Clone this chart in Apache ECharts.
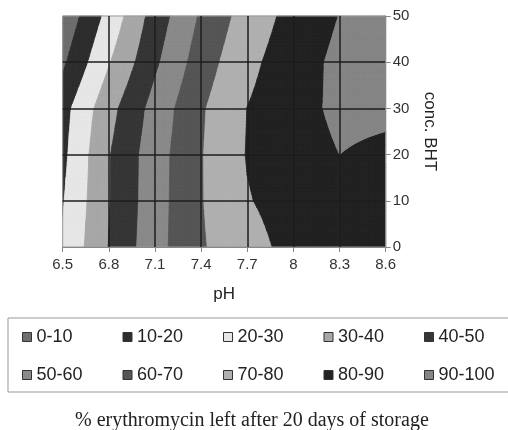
<!DOCTYPE html>
<html><head><meta charset="utf-8">
<script src="https://cdn.jsdelivr.net/npm/echarts@6/dist/echarts.min.js"></script>
<style>html,body{margin:0;padding:0;background:#fff}#c{width:508px;height:430px}</style>
</head><body><div id="c"></div>
<script>
// ---- data ----
const phLabels = ['6.5', '6.8', '7.1', '7.4', '7.7', '8', '8.3', '8.6'];
const bhtValues = [0, 10, 20, 30, 40, 50];
// % erythromycin left, one array per BHT level (columns follow phLabels)
const leftAtBHT0  = [21.0, 40.3, 56.4, 69.0, 76.5, 83.0, 85.0, 86.0];
const leftAtBHT10 = [19.4, 39.5, 55.8, 69.4, 79.4, 84.0, 86.0, 86.0];
const leftAtBHT20 = [17.6, 39.4, 55.5, 69.4, 80.5, 85.3, 90.0, 88.0];
const leftAtBHT30 = [16.3, 36.6, 53.5, 68.8, 80.1, 86.1, 92.2, 92.0];
const leftAtBHT40 = [8.3, 29.3, 48.1, 65.0, 77.5, 85.4, 92.3, 93.0];
const leftAtBHT50 = [2.4, 23.0, 44.3, 61.3, 74.3, 83.2, 90.2, 93.0];
const bandNames = ['0-10', '10-20', '20-30', '30-40', '40-50', '50-60', '60-70', '70-80', '80-90', '90-100'];
const bandLower = [0, 10, 20, 30, 40, 50, 60, 70, 80, 90];
const bandUpper = [10, 20, 30, 40, 50, 60, 70, 80, 90, 100];

// ---- styles ----
const bandColors = ['#6e6e6e', '#2e2e2e', '#e6e6e6', '#a8a8a8', '#363636',
                    '#8a8a8a', '#565656', '#b0b0b0', '#232323', '#858585'];

const gridRows = [leftAtBHT0, leftAtBHT10, leftAtBHT20, leftAtBHT30, leftAtBHT40, leftAtBHT50];
const cells = [];
for (let j = 0; j < bhtValues.length - 1; j++)
  for (let i = 0; i < phLabels.length - 1; i++) cells.push([i, j]);

function clipPoly(poly, thr, keepAbove) {
  const out = [];
  const n = poly.length;
  for (let m = 0; m < n; m++) {
    const P = poly[m], Q = poly[(m + 1) % n];
    const pin = keepAbove ? P[2] >= thr : P[2] <= thr;
    const qin = keepAbove ? Q[2] >= thr : Q[2] <= thr;
    if (pin) out.push(P);
    if (pin !== qin) {
      const r = (thr - P[2]) / (Q[2] - P[2]);
      out.push([P[0] + r * (Q[0] - P[0]), P[1] + r * (Q[1] - P[1]), thr]);
    }
  }
  return out;
}

function makeRender(k) {
  const lo = bandLower[k], hi = bandUpper[k];
  return function (params, api) {
    const i = api.value(0), j = api.value(1);
    const v00 = gridRows[j][i], v10 = gridRows[j][i + 1];
    const v01 = gridRows[j + 1][i], v11 = gridRows[j + 1][i + 1];
    const mn = Math.min(v00, v10, v01, v11), mx = Math.max(v00, v10, v01, v11);
    if (mx < lo || mn > hi) return null;
    const y0 = bhtValues[j], y1 = bhtValues[j + 1];
    const c00 = api.coord([i, y0]), c10 = api.coord([i + 1, y0]);
    const c01 = api.coord([i, y1]);
    const px = (s, t) => [c00[0] + s * (c10[0] - c00[0]), c00[1] + t * (c01[1] - c00[1])];
    const val = (s, t) => (1 - s) * (1 - t) * v00 + s * (1 - t) * v10 + (1 - s) * t * v01 + s * t * v11;
    const N = 14;
    let d = '';
    for (let a = 0; a < N; a++) {
      for (let b = 0; b < N; b++) {
        const s0 = a / N, s1 = (a + 1) / N, t0 = b / N, t1 = (b + 1) / N;
        const p00 = [s0, t0, val(s0, t0)], p10 = [s1, t0, val(s1, t0)];
        const p11 = [s1, t1, val(s1, t1)], p01 = [s0, t1, val(s0, t1)];
        const tris = [[p00, p10, p11], [p00, p11, p01]];
        for (const tri of tris) {
          let poly = clipPoly(tri, lo, true);
          if (poly.length < 3) continue;
          poly = clipPoly(poly, hi, false);
          if (poly.length < 3) continue;
          poly.forEach((p, idx) => {
            const q = px(p[0], p[1]);
            d += (idx === 0 ? 'M' : 'L') + q[0].toFixed(2) + ' ' + q[1].toFixed(2);
          });
          d += 'Z';
        }
      }
    }
    if (!d) return null;
    return {
      type: 'path',
      shape: { pathData: d },
      style: { fill: bandColors[k], stroke: bandColors[k], lineWidth: 0.7 }
    };
  };
}

const series = bandNames.map((name, k) => ({
  name: name,
  type: 'custom',
  data: cells,
  renderItem: makeRender(k),
  itemStyle: { color: bandColors[k] },
  silent: true,
  animation: false,
  z: 2
}));

const chart = echarts.init(document.getElementById('c'), null, { renderer: 'canvas' });
chart.setOption({
  animation: false,
  backgroundColor: '#fff',
  title: {
    text: '% erythromycin left after 20 days of storage',
    left: 70, top: 406,
    textStyle: { fontFamily: 'Liberation Serif', fontSize: 20, fontWeight: 'normal', color: '#222' }
  },
  grid: { left: 62.7, right: 122.3, top: 16, bottom: 183, show: true, borderColor: '#999', borderWidth: 1, z: 10 },
  legend: {
    data: bandNames,
    left: 8, top: 318, width: 490,
    orient: 'horizontal',
    padding: [8, 0, 6, 14],
    itemGap: 16,
    itemWidth: 9, itemHeight: 9,
    icon: 'rect',
    borderColor: '#999', borderWidth: 1,
    itemStyle: { borderColor: '#333', borderWidth: 1 },
    formatter: '{a|{name}}',
    textStyle: {
      lineHeight: 22,
      rich: { a: { width: 70, height: 22, fontSize: 18, lineHeight: 22, color: '#222', fontFamily: 'Liberation Sans' } }
    },
    selectedMode: false
  },
  xAxis: {
    type: 'value', min: 0, max: 7, interval: 1, z: 10,
    name: 'pH', nameLocation: 'middle', nameGap: 39,
    nameTextStyle: { fontFamily: 'Liberation Sans', fontSize: 17, color: '#222' },
    axisLine: { show: true, onZero: false, lineStyle: { color: '#888', width: 1 } },
    axisTick: { show: true, length: 5, lineStyle: { color: '#888' } },
    axisLabel: { formatter: v => phLabels[v], fontFamily: 'Liberation Sans', fontSize: 15, color: '#333', margin: 10 },
    splitLine: { show: true, showMinLine: false, showMaxLine: false, lineStyle: { color: '#1c1c1c', width: 1.5 } }
  },
  yAxis: {
    type: 'value', min: 0, max: 50, interval: 10, position: 'right', z: 10,
    name: 'conc. BHT', nameLocation: 'middle', nameGap: 35, nameRotate: -90,
    nameTextStyle: { fontFamily: 'Liberation Sans', fontSize: 17, color: '#222' },
    axisLine: { show: true, onZero: false, lineStyle: { color: '#888', width: 1 } },
    axisTick: { show: true, length: 5, lineStyle: { color: '#888' } },
    axisLabel: { fontFamily: 'Liberation Sans', fontSize: 15, color: '#333', margin: 7 },
    splitLine: { show: true, showMinLine: false, showMaxLine: false, lineStyle: { color: '#1c1c1c', width: 1.5 } }
  },
  series: series
});
</script>
</body></html>
